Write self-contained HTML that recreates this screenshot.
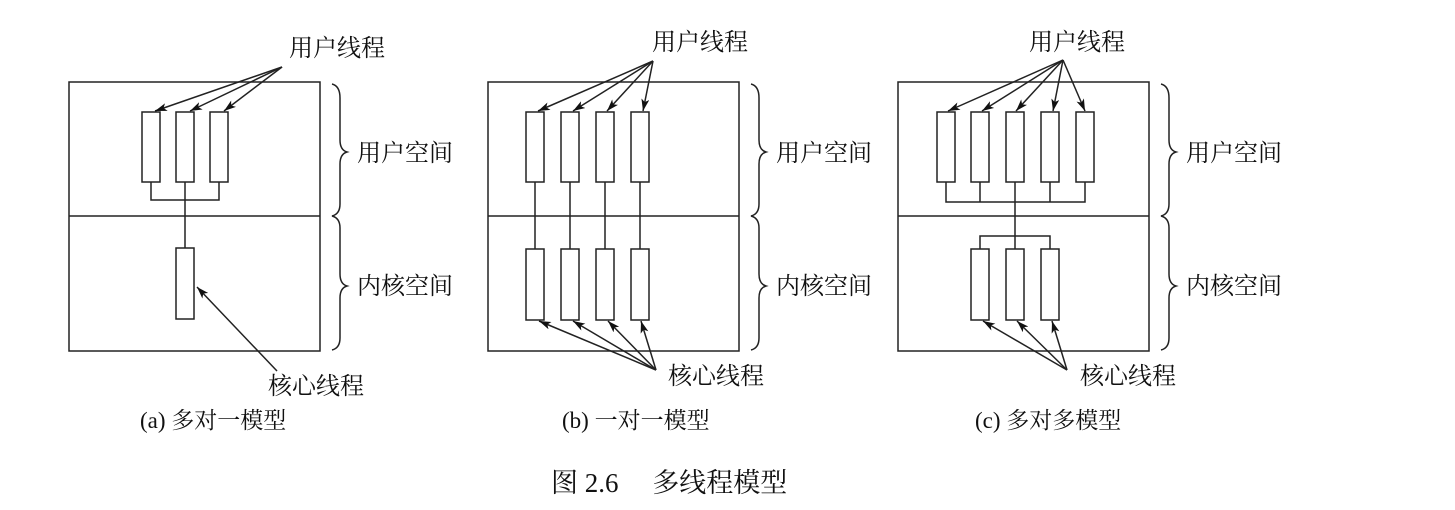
<!DOCTYPE html>
<html><head><meta charset="utf-8"><style>body{margin:0;background:#fff}svg{display:block}</style></head><body>
<svg width="1455" height="510" viewBox="0 0 1455 510" xmlns="http://www.w3.org/2000/svg" font-family="Liberation Serif, Noto Serif CJK SC, serif">
<defs><marker id="a" viewBox="0 0 12 8" refX="12" refY="4" markerWidth="12" markerHeight="8" markerUnits="userSpaceOnUse" orient="auto"><path d="M0,0 L12,4 L0,8 L3,4 Z" fill="#111"/></marker></defs>
<g stroke="#222" stroke-width="1.5" fill="none">
<rect x="69" y="82" width="251" height="269"/><line x1="69" y1="216" x2="320" y2="216"/>
<rect x="488" y="82" width="251" height="269"/><line x1="488" y1="216" x2="739" y2="216"/>
<rect x="898" y="82" width="251" height="269"/><line x1="898" y1="216" x2="1149" y2="216"/>
<path d="M332,84 Q340,86 340,98 L340,140 Q340,150 347,152 Q340,154 340,164 L340,204 Q340,214 332,216 Q340,218 340,228 L340,274 Q340,284 347,286 Q340,288 340,298 L340,338 Q340,348 332,350"/>
<path d="M751,84 Q759,86 759,98 L759,140 Q759,150 766,152 Q759,154 759,164 L759,204 Q759,214 751,216 Q759,218 759,228 L759,274 Q759,284 766,286 Q759,288 759,298 L759,338 Q759,348 751,350"/>
<path d="M1161,84 Q1169,86 1169,98 L1169,140 Q1169,150 1176,152 Q1169,154 1169,164 L1169,204 Q1169,214 1161,216 Q1169,218 1169,228 L1169,274 Q1169,284 1176,286 Q1169,288 1169,298 L1169,338 Q1169,348 1161,350"/>
<rect x="142" y="112" width="18" height="70"/><rect x="176" y="112" width="18" height="70"/><rect x="210" y="112" width="18" height="70"/>
<path d="M151,182 V200 H219 V182 M185,182 V248"/>
<rect x="176" y="248" width="18" height="71"/>
<g marker-end="url(#a)"><line x1="282" y1="67" x2="155" y2="111"/><line x1="282" y1="67" x2="190" y2="111"/><line x1="282" y1="67" x2="224" y2="111"/><line x1="277" y1="371" x2="197" y2="287"/></g>
<rect x="526" y="112" width="18" height="70"/><rect x="561" y="112" width="18" height="70"/><rect x="596" y="112" width="18" height="70"/><rect x="631" y="112" width="18" height="70"/>
<rect x="526" y="249" width="18" height="71"/><rect x="561" y="249" width="18" height="71"/><rect x="596" y="249" width="18" height="71"/><rect x="631" y="249" width="18" height="71"/>
<path d="M535,182 V249 M570,182 V249 M605,182 V249 M640,182 V249"/>
<g marker-end="url(#a)"><line x1="653" y1="61" x2="538" y2="111"/><line x1="653" y1="61" x2="573" y2="111"/><line x1="653" y1="61" x2="607" y2="111"/><line x1="653" y1="61" x2="643" y2="111"/>
<line x1="656" y1="370" x2="539" y2="321"/><line x1="656" y1="370" x2="573" y2="321"/><line x1="656" y1="370" x2="608" y2="321"/><line x1="656" y1="370" x2="641" y2="321"/></g>
<rect x="937" y="112" width="18" height="70"/><rect x="971" y="112" width="18" height="70"/><rect x="1006" y="112" width="18" height="70"/><rect x="1041" y="112" width="18" height="70"/><rect x="1076" y="112" width="18" height="70"/>
<path d="M946,182 V202 H1085 V182 M980,182 V202 M1050,182 V202 M1015,182 V249 M980,249 V236 H1050 V249"/>
<rect x="971" y="249" width="18" height="71"/><rect x="1006" y="249" width="18" height="71"/><rect x="1041" y="249" width="18" height="71"/>
<g marker-end="url(#a)"><line x1="1063" y1="60" x2="948" y2="111"/><line x1="1063" y1="60" x2="982" y2="111"/><line x1="1063" y1="60" x2="1016" y2="111"/><line x1="1063" y1="60" x2="1053" y2="111"/><line x1="1063" y1="60" x2="1085" y2="111"/>
<line x1="1067" y1="370" x2="983" y2="321"/><line x1="1067" y1="370" x2="1017" y2="321"/><line x1="1067" y1="370" x2="1052" y2="321"/></g>
</g>
<g font-size="24" fill="#111">
<text x="289" y="56">用户线程</text><text x="652" y="50">用户线程</text><text x="1029" y="50">用户线程</text>
<text x="357" y="161">用户空间</text><text x="776" y="161">用户空间</text><text x="1186" y="161">用户空间</text>
<text x="357" y="294">内核空间</text><text x="776" y="294">内核空间</text><text x="1186" y="294">内核空间</text>
<text x="268" y="394">核心线程</text><text x="668" y="384">核心线程</text><text x="1080" y="384">核心线程</text>
</g>
<g font-size="23" fill="#111">
<text x="140" y="428">(a) 多对一模型</text><text x="562" y="428">(b) 一对一模型</text><text x="975" y="428">(c) 多对多模型</text>
<text x="551" y="492" font-size="27">图 2.6　 多线程模型</text>
</g>
</svg>
</body></html>
